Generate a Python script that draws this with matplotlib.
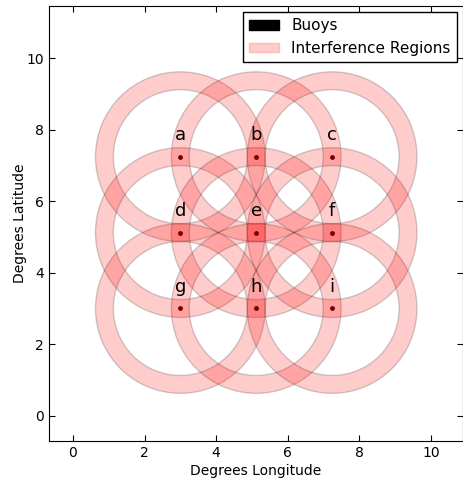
import numpy as np
import matplotlib
matplotlib.use("Agg")
import matplotlib.pyplot as plt
from matplotlib.patches import Annulus, Patch

spacing = 3 / np.sqrt(2)
lon = [3.0, 3.0 + spacing, 3.0 + 2 * spacing]
lat = [3.0 + 2 * spacing, 3.0 + spacing, 3.0]
names = ["a", "b", "c", "d", "e", "f", "g", "h", "i"]
ring_radius = spacing
ring_width = 0.5

bx = [x for y in lat for x in lon]
by = [y for y in lat for x in lon]

fig = plt.figure(figsize=(4.64, 4.78), dpi=100)
ax = fig.add_axes([49 / 464, 37 / 478, 414 / 464, 435 / 478])

for x, y in zip(bx, by):
    ax.add_patch(Annulus((x, y), ring_radius + ring_width / 2, ring_width,
                         facecolor=(1, 0, 0, 0.2), edgecolor=(0, 0, 0, 0.18), lw=1))

ax.plot(bx, by, "o", color="#7a0000", markersize=2.5, zorder=5)
for x, y, n in zip(bx, by, names):
    ax.text(x, y + 0.35, n, ha="center", va="bottom", fontsize=13)

ax.set_xlim(-0.67, 10.9)
ax.set_ylim(-0.7, 11.45)
ax.set_aspect("equal")
ax.set_xticks([0, 2, 4, 6, 8, 10])
ax.set_yticks([0, 2, 4, 6, 8, 10])
ax.tick_params(direction="in", top=True, right=True, labelsize=10, length=4)
ax.set_xlabel("Degrees Longitude", fontsize=10, labelpad=3)
ax.set_ylabel("Degrees Latitude", fontsize=10, labelpad=0)

handles = [Patch(facecolor="black", edgecolor="black", label="Buoys"),
           Patch(facecolor="#ffcccc", edgecolor="#ffbbbb", label="Interference Regions")]
leg = ax.legend(handles=handles, loc="upper right", fontsize=11, fancybox=False,
                framealpha=1, edgecolor="black", handlelength=2.0, handleheight=0.6,
                labelspacing=0.5, borderaxespad=0.4, borderpad=0.4)
leg.get_frame().set_linewidth(1)

fig.savefig("out.png", dpi=100, facecolor="white")
